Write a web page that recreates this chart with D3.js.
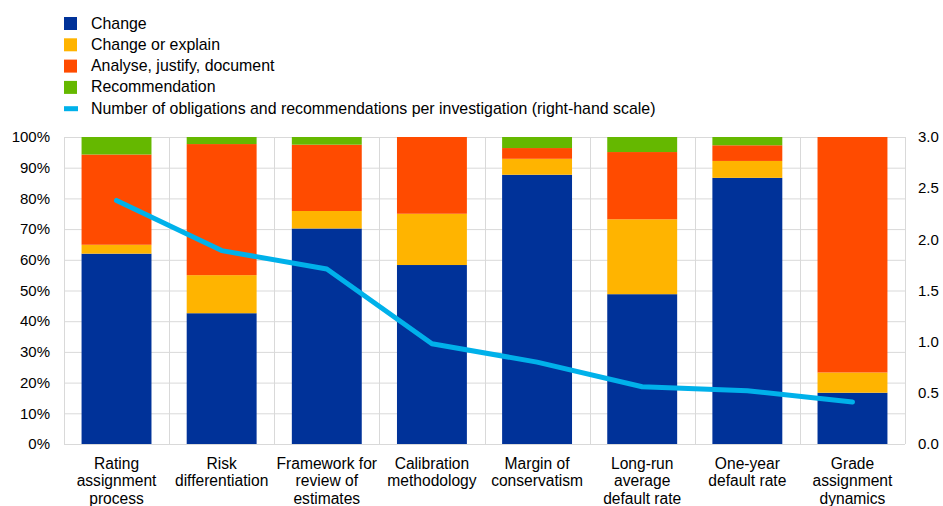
<!DOCTYPE html>
<html>
<head>
<meta charset="utf-8">
<title>Obligations and recommendations by topic</title>
<script src="https://d3js.org/d3.v7.min.js"></script>
<style>
  body { margin: 0; background: #fff; }
  text { font-family: "Liberation Sans", Arial, sans-serif; fill: #000; }
</style>
</head>
<body>
<svg id="chart" width="943" height="506"></svg>
<script>
// data
var categories = [
  ["Rating", "assignment", "process"],
  ["Risk", "differentiation"],
  ["Framework for", "review of", "estimates"],
  ["Calibration", "methodology"],
  ["Margin of", "conservatism"],
  ["Long-run", "average", "default rate"],
  ["One-year", "default rate"],
  ["Grade", "assignment", "dynamics"]
];
var change          = [62.0, 42.6, 70.2, 58.3, 87.7, 48.8, 86.7, 16.7];
var changeOrExplain = [2.9, 12.4, 5.7, 16.7, 5.2, 24.4, 5.5, 6.6];
var analyse         = [29.4, 42.7, 21.6, 25.0, 3.5, 21.9, 5.1, 76.7];
var recommendation  = [5.7, 2.3, 2.5, 0, 3.6, 4.9, 2.7, 0];
var perInvestigation = [2.38, 1.89, 1.71, 0.98, 0.80, 0.56, 0.52, 0.41];

var seriesNames = ["Change", "Change or explain", "Analyse, justify, document", "Recommendation"];
var lineName = "Number of obligations and recommendations per investigation (right-hand scale)";
var colors = ["#003299", "#ffb400", "#ff4b00", "#65b800"];
var lineColor = "#00b1ea";

var leftTicks = [0, 10, 20, 30, 40, 50, 60, 70, 80, 90, 100];
var rightTicks = [0, 0.5, 1, 1.5, 2, 2.5, 3];

// layout
var pLeft = 64, pRight = 905, pTop = 137, pBottom = 444;
var svg = d3.select("#chart");

var x = d3.scaleBand()
  .domain(d3.range(categories.length))
  .range([pLeft, pRight])
  .paddingInner(0.335)
  .paddingOuter(0.167);

var y = d3.scaleLinear().domain([0, 100]).range([pBottom, pTop]);
var y2 = d3.scaleLinear().domain([0, 3]).range([pBottom, pTop]);

// gridlines
var grid = svg.append("g");
grid.selectAll("line.h")
  .data(leftTicks)
  .enter().append("line")
    .attr("x1", pLeft).attr("x2", pRight)
    .attr("y1", d => y(d) + 0.5).attr("y2", d => y(d) + 0.5)
    .attr("stroke", "#d9d9d9").attr("stroke-width", 1);

var step = (pRight - pLeft) / categories.length;
grid.selectAll("line.v")
  .data(d3.range(categories.length + 1))
  .enter().append("line")
    .attr("x1", d => Math.round(pLeft + d * step) + 0.5).attr("x2", d => Math.round(pLeft + d * step) + 0.5)
    .attr("y1", pTop).attr("y2", pBottom)
    .attr("stroke", "#d9d9d9").attr("stroke-width", 1);

// stacked bars
var rows = categories.map(function(c, i) {
  return { i: i, s0: change[i], s1: changeOrExplain[i], s2: analyse[i], s3: recommendation[i] };
});
var stack = d3.stack().keys(["s0", "s1", "s2", "s3"]);
var layers = stack(rows);

svg.append("g").selectAll("g")
  .data(layers)
  .enter().append("g")
    .attr("fill", (d, k) => colors[k])
  .selectAll("rect")
  .data(d => d)
  .enter().append("rect")
    .attr("x", d => x(d.data.i))
    .attr("width", x.bandwidth())
    .attr("y", d => y(d[1]))
    .attr("height", d => y(d[0]) - y(d[1]));

// line on right-hand scale
var line = d3.line()
  .x((d, i) => x(i) + x.bandwidth() / 2)
  .y(d => y2(d));

svg.append("path")
  .datum(perInvestigation)
  .attr("d", line)
  .attr("fill", "none")
  .attr("stroke", lineColor)
  .attr("stroke-width", 5)
  .attr("stroke-linejoin", "round")
  .attr("stroke-linecap", "round");

// left axis labels
svg.append("g").selectAll("text")
  .data(leftTicks)
  .enter().append("text")
    .attr("x", 50)
    .attr("y", d => y(d))
    .attr("dy", "0.35em")
    .attr("text-anchor", "end")
    .style("font-size", "15px")
    .text(d => d + "%");

// right axis labels
svg.append("g").selectAll("text")
  .data(rightTicks)
  .enter().append("text")
    .attr("x", 918)
    .attr("y", d => y2(d))
    .attr("dy", "0.35em")
    .attr("text-anchor", "start")
    .style("font-size", "15px")
    .text(d => d3.format(".1f")(d));

// category labels
var cat = svg.append("g").selectAll("text")
  .data(categories)
  .enter().append("text")
    .attr("text-anchor", "middle")
    .style("font-size", "15.6px")
    .attr("transform", (d, i) => "translate(" + (x(i) + x.bandwidth() / 2) + ",468.5)");
cat.selectAll("tspan")
  .data(d => d)
  .enter().append("tspan")
    .attr("x", 0)
    .attr("y", (d, j) => j * 17.8)
    .text(d => d);

// legend
var legend = svg.append("g").attr("transform", "translate(64,23)");
var items = seriesNames.concat([lineName]);
var li = legend.selectAll("g")
  .data(items)
  .enter().append("g")
    .attr("transform", (d, i) => "translate(0," + i * 21.3 + ")");
li.filter((d, i) => i < 4).append("rect")
  .attr("x", 0).attr("y", -6)
  .attr("width", 13).attr("height", 13)
  .attr("fill", (d, i) => colors[i]);
li.filter((d, i) => i === 4).append("rect")
  .attr("x", 0).attr("y", -2)
  .attr("width", 14).attr("height", 5)
  .attr("fill", lineColor);
li.append("text")
  .attr("x", 27)
  .attr("dy", "0.35em")
  .style("font-size", "15.9px")
  .text(d => d);
</script>
</body>
</html>
